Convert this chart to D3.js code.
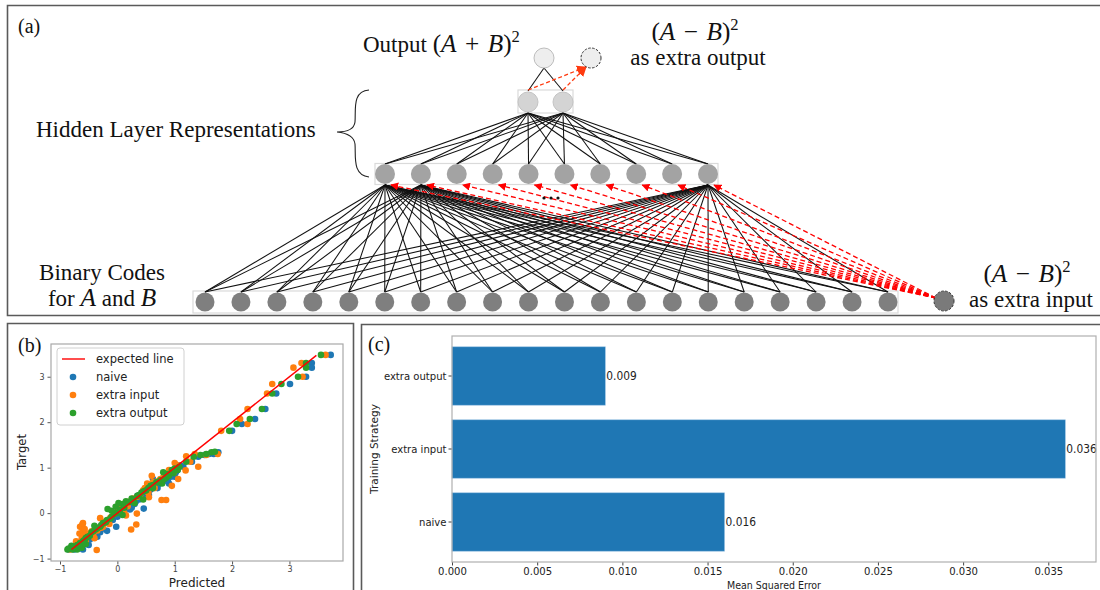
<!DOCTYPE html>
<html>
<head>
<meta charset="utf-8">
<script src="https://cdn.jsdelivr.net/npm/d3@7"></script>
<style>
  body { margin: 0; background: #fff; }
  svg { display: block; }
</style>
</head>
<body>
<svg id="fig" width="1100" height="590"></svg>
<script>
// ---------- (a) network structure ----------
const inputUnits = d3.range(20);          // binary codes for A and B
const hiddenUnits = d3.range(10);         // first hidden layer
const reprUnits = [0, 1];                 // second hidden layer (representation)
const outputUnits = ["sum", "diff"];      // (A+B)^2 and the extra (A-B)^2 output
const fannedHidden = [0, 1, 9];           // hidden units whose input connections are drawn

// ---------- (b) predicted vs target ----------
const naivePoints = [
  [3.72,3.48],[3.39,3.30],[3.39,3.20],[3.29,3.00],[3.01,2.84],[2.77,2.63],[2.58,2.29],[2.40,2.07],
  [2.17,1.96],[2.00,1.81],[1.76,1.34],[1.68,1.30],[1.41,1.24],[1.30,1.13],[1.15,1.02],[1.05,0.95],
  [0.97,0.88],[0.93,0.80],[0.85,0.75],[0.80,0.70],[0.72,0.64],[0.62,0.58],[0.55,0.50],[0.48,0.44],
  [0.45,0.35],[0.38,0.30],[0.46,0.10],[0.30,0.20],[0.20,0.16],[0.15,0.10],[0.05,0.06],[0.02,0.00],
  [-0.05,-0.06],[-0.10,-0.12],[-0.02,-0.30],[-0.18,-0.39],[-0.22,-0.20],[-0.28,-0.28],[-0.35,-0.52],
  [-0.40,-0.45],[-0.45,-0.50],[-0.52,-0.55],[-0.55,-0.60],[-0.60,-0.65],[-0.65,-0.68],[-0.70,-0.72],
  [-0.72,-0.75],[-0.78,-0.78],[-0.85,-0.80],[-0.60,-0.80],[-0.50,-0.70],[0.62,0.75],[0.90,0.65],
  [1.10,1.05],[1.00,0.80],[1.60,1.30],[1.52,1.28],[0.75,0.72],[0.35,0.38],[-0.30,-0.42],
  [-0.80,-0.76],[-0.75,-0.80],[-0.68,-0.74],[-0.62,-0.70],[-0.58,-0.66],[-0.48,-0.58],[-0.42,-0.52],
  [-0.38,-0.46],[-0.32,-0.40],[-0.25,-0.34],[-0.15,-0.22],[-0.08,-0.15],[0.00,-0.08],[0.08,0.02],
  [0.12,0.05],[0.25,0.12],[0.32,0.25],[0.40,0.32],[0.52,0.45],[0.58,0.52],[0.68,0.60],[0.78,0.68],
  [0.88,0.72],[0.95,0.82],[1.02,0.90],[0.70,0.55],[0.55,0.40],[0.22,0.08]
];
const extraInputPoints = [
  [3.63,3.48],[3.21,3.30],[3.07,3.20],[3.23,3.00],[2.70,2.84],[2.61,2.63],[2.27,2.29],[2.14,2.07],
  [2.27,1.96],[1.81,1.81],[1.75,1.30],[1.27,1.13],[1.41,1.02],[1.00,1.10],[0.98,0.89],[1.06,0.75],
  [0.88,0.85],[0.80,0.78],[0.70,0.70],[0.54,0.45],[0.52,0.65],[0.77,0.29],[0.85,0.29],[0.40,0.40],
  [0.34,-0.01],[0.24,-0.36],[0.33,-0.25],[0.10,0.20],[0.00,0.05],[-0.14,-0.24],[-0.30,-0.11],
  [-0.36,-0.81],[-0.61,-0.25],[-0.61,-0.32],[-0.60,-0.40],[-0.58,-0.48],[-0.62,-0.55],[-0.50,-0.45],
  [-0.45,-0.40],[-0.40,-0.55],[-0.55,-0.62],[-0.68,-0.70],[-0.75,-0.74],[-0.82,-0.80],[0.20,0.25],
  [-0.20,-0.18],[1.20,1.25],[0.65,0.55],[0.95,0.60],[1.35,1.30],[1.19,0.94],[0.60,0.82],
  [0.45,0.50],[-0.65,-0.30],[-0.25,-0.30],[0.15,-0.05],[-0.72,-0.62],[1.55,1.28],
  [-0.78,-0.78],[-0.70,-0.76],[-0.65,-0.66],[-0.55,-0.56],[-0.48,-0.50],[-0.42,-0.46],[-0.35,-0.38],
  [-0.28,-0.32],[-0.12,-0.10],[-0.05,-0.02],[0.05,0.10],[0.18,0.15],[0.28,0.32],[0.35,0.36],
  [0.48,0.55],[0.58,0.62],[0.62,0.68],[0.75,0.75],[0.82,0.82],[0.90,0.95],[1.05,1.05],[0.55,0.35],
  [0.12,0.00],[-0.60,-0.22],[-0.57,-0.35],[-0.66,-0.45]
];
const extraOutputPoints = [
  [3.55,3.48],[3.29,3.30],[3.29,3.20],[3.15,3.00],[2.86,2.84],[2.70,2.63],[2.52,2.29],[2.31,2.07],
  [2.08,1.96],[1.95,1.81],[1.64,1.34],[1.55,1.30],[1.33,1.24],[1.20,1.13],[1.08,1.02],[0.95,0.95],
  [0.88,0.86],[0.85,0.78],[0.75,0.72],[0.68,0.68],[0.58,0.60],[0.50,0.50],[0.42,0.45],[0.35,0.38],
  [0.25,0.32],[0.15,0.26],[0.10,0.20],[-0.03,0.14],[-0.17,0.09],[0.09,-0.04],[-0.05,-0.02],
  [-0.10,-0.08],[-0.18,-0.15],[-0.25,-0.22],[-0.30,-0.30],[-0.38,-0.36],[-0.45,-0.42],[-0.48,-0.50],
  [-0.55,-0.55],[-0.60,-0.62],[-0.65,-0.66],[-0.70,-0.70],[-0.75,-0.74],[-0.80,-0.78],[-0.87,-0.80],
  [-0.70,-0.80],[-0.62,-0.76],[0.78,0.65],[0.62,0.55],[0.45,0.30],[1.45,1.28],[1.70,1.35],
  [0.80,0.90],[0.30,0.22],[-0.40,-0.28],[-0.55,-0.68],[-0.80,-0.72],[1.00,0.98],
  [-0.85,-0.78],[-0.78,-0.80],[-0.74,-0.77],[-0.67,-0.72],[-0.58,-0.60],[-0.52,-0.52],[-0.42,-0.40],
  [-0.35,-0.33],[-0.28,-0.26],[-0.20,-0.20],[-0.12,-0.12],[-0.02,0.00],[0.05,0.08],[0.12,0.12],
  [0.20,0.24],[0.28,0.28],[0.38,0.40],[0.46,0.48],[0.54,0.55],[0.62,0.62],[0.72,0.68],[0.82,0.75],
  [0.90,0.82],[0.98,0.88],[1.05,0.95],[-0.10,0.05],[0.02,0.22]
];
const expectedLine = [[-0.80,-0.80],[3.47,3.47]];
const scatterXTicks = [-1, 0, 1, 2, 3];
const scatterYTicks = [-1, 0, 1, 2, 3];
const scatterSeries = [
  { name: "naive", points: naivePoints, color: "#1f77b4" },
  { name: "extra input", points: extraInputPoints, color: "#ff7f0e" },
  { name: "extra output", points: extraOutputPoints, color: "#2ca02c" }
];

// ---------- (c) mean squared error per strategy ----------
const strategies = ["extra output", "extra input", "naive"];
const mseValues = [0.009, 0.036, 0.016];
const mseTicks = [0, 0.005, 0.010, 0.015, 0.020, 0.025, 0.030, 0.035];

const svg = d3.select("#fig");
const SERIF = "'Liberation Serif', 'Times New Roman', serif";
const SANS = "'DejaVu Sans', sans-serif";
const SANSC = "'DejaVu Sans Condensed', 'DejaVu Sans', sans-serif";

// text with italic / math / superscript fragments, e.g. (A + B)^2
function richText(parent, x, y, parts, size, anchor) {
  const t = parent.append("text").attr("x", x).attr("y", y)
    .attr("font-family", SERIF).attr("font-size", size).attr("fill", "#111")
    .attr("text-anchor", anchor || "start");
  parts.forEach(([s, style]) => {
    const sp = t.append("tspan").text(s);
    if (style === "i") sp.attr("font-style", "italic");
    if (style === "m") sp.attr("font-size", size * 1.1);
    if (style === "mi") sp.attr("font-style", "italic").attr("font-size", size * 1.1);
    if (style === "sup") sp.attr("font-size", size * 0.72).attr("dy", -size * 0.45);
  });
  return t;
}
const sqMath = (op) => [["(", "m"], ["A", "mi"], ["\u2004" + op + "\u2004", "m"], ["B", "mi"], [")", "m"], ["2", "sup"]];

// ---------- panel frames ----------
const frames = svg.append("g").attr("fill", "none").attr("stroke", "#5a5a5a").attr("stroke-width", 1.6);
frames.append("path").attr("d", "M1104,5.5 H7.5 V315.5 H1104");
frames.append("path").attr("d", "M7.5,600 V323.5 H353.5 V600");
frames.append("path").attr("d", "M361.5,600 V324.5 H1104");

// ================= (a) network diagram =================
const net = svg.append("g");
const layerY = d3.scaleOrdinal().domain(["out", "repr", "hidden", "input"]).range([58, 102, 174, 302]);
const xIn = d3.scalePoint().domain(inputUnits).range([205, 888]);
const xHid = d3.scalePoint().domain(hiddenUnits).range([385, 708]);
const xRep = d3.scalePoint().domain(reprUnits).range([528, 563]);
const xOut = d3.scalePoint().domain(outputUnits).range([544, 591]);
const xExtraIn = d3.scaleOrdinal().domain(["extra"]).range([944]);
const R = 10;

const defs = svg.append("defs");
defs.append("marker").attr("id", "redHead").attr("viewBox", "0 0 10 10")
  .attr("refX", 9).attr("refY", 5).attr("markerWidth", 8).attr("markerHeight", 8)
  .attr("markerUnits", "userSpaceOnUse").attr("orient", "auto")
  .append("path").attr("d", "M0,0 L10,5 L0,10 z").attr("fill", "#ff0000");
defs.append("marker").attr("id", "orangeHead").attr("viewBox", "0 0 10 10")
  .attr("refX", 9).attr("refY", 5).attr("markerWidth", 10).attr("markerHeight", 10)
  .attr("markerUnits", "userSpaceOnUse").attr("orient", "auto")
  .append("path").attr("d", "M0,0 L10,5 L0,10 z").attr("fill", "#ff3b10");

// layer boxes
const boxes = net.append("g").attr("fill", "#fff").attr("stroke", "#dadada").attr("stroke-width", 1.2);
boxes.append("rect").attr("x", xIn(0) - 12).attr("y", layerY("input") - 11)
  .attr("width", xIn(19) - xIn(0) + 22).attr("height", 22);
boxes.append("rect").attr("x", xHid(0) - 10).attr("y", layerY("hidden") - 10.5)
  .attr("width", xHid(9) - xHid(0) + 20).attr("height", 21);
boxes.append("rect").attr("x", xRep(0) - 10).attr("y", layerY("repr") - 12)
  .attr("width", xRep(1) - xRep(0) + 20).attr("height", 23);

// solid connections
const links = [];
fannedHidden.forEach(h => inputUnits.forEach(i =>
  links.push([xHid(h), layerY("hidden") + R + 1, xIn(i), layerY("input") - R])));
reprUnits.forEach(r => hiddenUnits.forEach(h =>
  links.push([xRep(r), layerY("repr") + R + 1, xHid(h), layerY("hidden") - R])));
reprUnits.forEach(r => links.push([xRep(r), layerY("repr") - R - 1, xOut("sum"), layerY("out") + R]));
net.append("g").attr("stroke", "#111").attr("stroke-width", 1.05)
  .selectAll("line").data(links).join("line")
  .attr("x1", d => d[0]).attr("y1", d => d[1]).attr("x2", d => d[2]).attr("y2", d => d[3]);

// dashed arrows from the extra input to every hidden unit
net.append("g").attr("stroke", "#ff0000").attr("stroke-width", 1.3).attr("stroke-dasharray", "5,3")
  .selectAll("line").data(hiddenUnits).join("line")
  .attr("x1", xExtraIn("extra") - 8).attr("y1", layerY("input") - 4)
  .attr("x2", h => xHid(h) + 6).attr("y2", layerY("hidden") + 11)
  .attr("marker-end", "url(#redHead)");

// dashed arrows from the representation to the extra output
net.append("g").attr("stroke", "#ff3b10").attr("stroke-width", 1.3).attr("stroke-dasharray", "4,2.5")
  .selectAll("line").data(reprUnits).join("line")
  .attr("x1", r => xRep(r)).attr("y1", layerY("repr") - 12)
  .attr("x2", xOut("diff") - 5).attr("y2", layerY("out") + 9)
  .attr("marker-end", "url(#orangeHead)");

// nodes
net.append("g").selectAll("circle").data(inputUnits).join("circle")
  .attr("cx", i => xIn(i)).attr("cy", layerY("input")).attr("r", R - 0.5).attr("fill", "#7f7f7f");
net.append("g").selectAll("circle").data(hiddenUnits).join("circle")
  .attr("cx", h => xHid(h)).attr("cy", layerY("hidden")).attr("r", R).attr("fill", "#a3a3a3");
net.append("g").selectAll("circle").data(reprUnits).join("circle")
  .attr("cx", r => xRep(r)).attr("cy", layerY("repr")).attr("r", R)
  .attr("fill", "#d4d4d4").attr("stroke", "#c4c4c4");
net.append("circle").attr("cx", xOut("sum")).attr("cy", layerY("out")).attr("r", R)
  .attr("fill", "#eeeeee").attr("stroke", "#bdbdbd");
net.append("circle").attr("cx", xOut("diff")).attr("cy", layerY("out")).attr("r", R)
  .attr("fill", "#eeeeee").attr("stroke", "#333").attr("stroke-dasharray", "2.5,1.5");
net.append("circle").attr("cx", xExtraIn("extra")).attr("cy", layerY("input") - 1).attr("r", R)
  .attr("fill", "#7a7a7a").attr("stroke", "#333").attr("stroke-dasharray", "2.5,1.5");

// ellipsis between hidden units
net.append("g").selectAll("circle").data([0, 1, 2]).join("circle")
  .attr("cx", k => 544 + k * 7).attr("cy", 198).attr("r", 1.6).attr("fill", "#111");

// brace
net.append("path")
  .attr("d", "M369,90 C352,91 356,110 355,122 C354,130 347,132 337,132 C347,133 354,136 355,144 C356,156 352,175 369,177")
  .attr("fill", "none").attr("stroke", "#222").attr("stroke-width", 1.1);

// labels
richText(svg, 18, 33, [["(a)", ""]], 20);
richText(svg, 36, 137, [["Hidden Layer Representations", ""]], 23);
richText(svg, 363, 52, [["Output ", ""], ...sqMath("+")], 23);
richText(svg, 695, 40, sqMath("\u2212"), 23, "middle");
richText(svg, 698, 65, [["as extra output", ""]], 23, "middle");
richText(svg, 102, 280, [["Binary Codes", ""]], 23, "middle");
richText(svg, 102, 306, [["for ", ""], ["A", "mi"], [" and ", ""], ["B", "mi"]], 23, "middle");
richText(svg, 1027, 282, sqMath("\u2212"), 23, "middle");
richText(svg, 1031, 307, [["as extra input", ""]], 23, "middle");

// ================= (b) scatter =================
richText(svg, 18, 352, [["(b)", ""]], 20);
const sx = d3.scaleLinear().domain([-1.157, 3.934]).range([51, 343]);
const sy = d3.scaleLinear().domain([-1.053, 3.72]).range([561, 344]);
const sc = svg.append("g");
const fmtMinus = d => String(d).replace("-", "\u2212");

const xAxB = sc.append("g").attr("transform", "translate(0,561)")
  .call(d3.axisBottom(sx).tickValues(scatterXTicks).tickSize(3.5).tickPadding(2).tickFormat(fmtMinus));
const yAxB = sc.append("g").attr("transform", "translate(51,0)")
  .call(d3.axisLeft(sy).tickValues(scatterYTicks).tickSize(3.5).tickPadding(3).tickFormat(fmtMinus));
[xAxB, yAxB].forEach(a => {
  a.select(".domain").remove();
  a.selectAll("line").attr("stroke", "#555");
  a.selectAll("text").attr("font-family", SANS).attr("font-size", 8).attr("fill", "#444");
});
sc.append("rect").attr("x", 51).attr("y", 344).attr("width", 292).attr("height", 217)
  .attr("fill", "none").attr("stroke", "#a8a8a8").attr("stroke-width", 1.2);

scatterSeries.forEach(s => {
  sc.append("g").selectAll("circle").data(s.points).join("circle")
    .attr("cx", d => sx(d[0])).attr("cy", d => sy(d[1])).attr("r", 3.3).attr("fill", s.color);
});
sc.append("path").datum(expectedLine)
  .attr("d", d3.line().x(d => sx(d[0])).y(d => sy(d[1])))
  .attr("stroke", "#ff0000").attr("stroke-width", 1.4).attr("fill", "none");

// legend
const lg = sc.append("g");
lg.append("rect").attr("x", 57).attr("y", 348).attr("width", 127).attr("height", 77).attr("rx", 3)
  .attr("fill", "#fff").attr("fill-opacity", 0.85).attr("stroke", "#d0d0d0");
const legendRows = d3.scalePoint().domain(["expected line", ...scatterSeries.map(s => s.name)]).range([359, 413]);
lg.append("line").attr("x1", 62).attr("x2", 85).attr("y1", legendRows("expected line")).attr("y2", legendRows("expected line"))
  .attr("stroke", "#ff0000").attr("stroke-width", 1.4);
lg.selectAll("circle").data(scatterSeries).join("circle")
  .attr("cx", 73).attr("cy", s => legendRows(s.name)).attr("r", 3.3).attr("fill", s => s.color);
lg.selectAll("text").data(legendRows.domain()).join("text")
  .attr("x", 96).attr("y", d => legendRows(d)).attr("dy", "0.35em")
  .attr("font-family", SANS).attr("font-size", 11.5).attr("fill", "#222").text(d => d);

sc.append("text").attr("x", 197).attr("y", 587).attr("text-anchor", "middle")
  .attr("font-family", SANS).attr("font-size", 12).attr("fill", "#222").text("Predicted");
sc.append("text").attr("transform", "translate(26,452) rotate(-90)").attr("text-anchor", "middle")
  .attr("font-family", SANS).attr("font-size", 11.7).attr("fill", "#222").text("Target");

// ================= (c) bar chart =================
richText(svg, 368, 351, [["(c)", ""]], 20);
const bx = d3.scaleLinear().domain([0, 0.0378]).range([452, 1096]);
const by = d3.scaleBand().domain(strategies).range([339.5, 558.5]).paddingInner(0.2).paddingOuter(0.1);
const bc = svg.append("g");

bc.selectAll("rect.bar").data(strategies).join("rect").attr("class", "bar")
  .attr("x", bx(0)).attr("y", d => by(d))
  .attr("width", (d, i) => bx(mseValues[i]) - bx(0)).attr("height", by.bandwidth())
  .attr("fill", "#1f77b4").attr("stroke", "#9cc3e4").attr("stroke-width", 0.6);
bc.selectAll("text.val").data(strategies).join("text").attr("class", "val")
  .attr("x", (d, i) => bx(mseValues[i]) + 1).attr("y", d => by(d) + by.bandwidth() / 2).attr("dy", "0.35em")
  .attr("font-family", SANSC).attr("font-size", 11.8).attr("fill", "#222")
  .text((d, i) => d3.format(".3f")(mseValues[i]));

const xAxC = bc.append("g").attr("transform", "translate(0,562)")
  .call(d3.axisBottom(bx).tickValues(mseTicks).tickSize(3.5).tickPadding(2).tickFormat(d3.format(".3f")));
const yAxC = bc.append("g").attr("transform", "translate(452,0)")
  .call(d3.axisLeft(by).tickSize(3.5).tickPadding(2));
[xAxC, yAxC].forEach(a => {
  a.select(".domain").remove();
  a.selectAll("line").attr("stroke", "#444");
  a.selectAll("text").attr("font-family", SANSC).attr("font-size", 11.2).attr("fill", "#222");
});
bc.append("rect").attr("x", 452).attr("y", 336).attr("width", 644).attr("height", 226)
  .attr("fill", "none").attr("stroke", "#b0b0b0").attr("stroke-width", 1.2);
bc.append("text").attr("x", 774).attr("y", 589).attr("text-anchor", "middle")
  .attr("font-family", SANSC).attr("font-size", 10.5).attr("fill", "#222").text("Mean Squared Error");
bc.append("text").attr("transform", "translate(378,449) rotate(-90)").attr("text-anchor", "middle")
  .attr("font-family", SANS).attr("font-size", 10.5).attr("fill", "#222").text("Training Strategy");
</script>
</body>
</html>
